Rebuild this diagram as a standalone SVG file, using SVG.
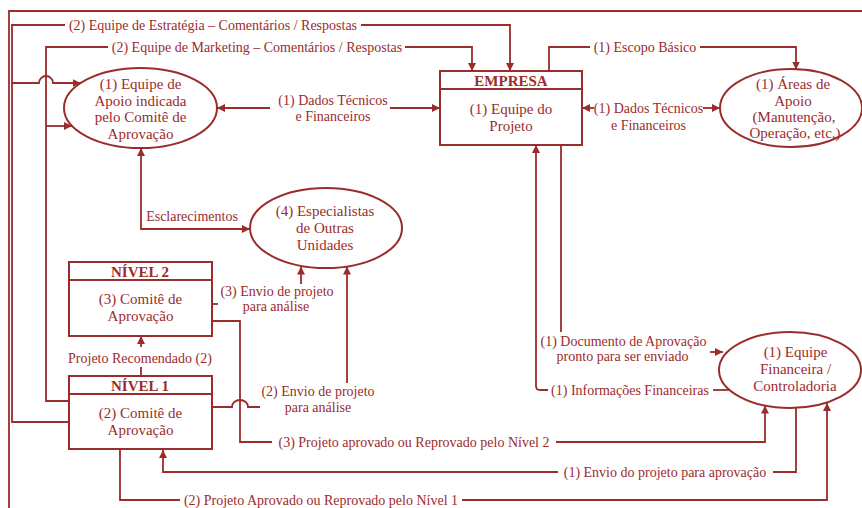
<svg xmlns="http://www.w3.org/2000/svg" width="862" height="508" viewBox="0 0 862 508">
  <style>
    .ln { fill: none; stroke: #9b2c2c; stroke-width: 1.8; }
    .bx { fill: #ffffff; stroke: #9b2c2c; stroke-width: 2; }
    .ar { marker-end: url(#arr); }
    .ar2 { marker-start: url(#arrS); marker-end: url(#arr); }
    text { font-family: "Liberation Serif", "Times New Roman", serif; fill: #9b2c2c; text-anchor: middle; }
    .nt { font-size: 15px; }
    .hd { font-size: 15px; font-weight: bold; }
    .lb { font-size: 14px; }
  </style>
  <defs>
    <marker id="arr" markerUnits="userSpaceOnUse" markerWidth="9" markerHeight="8" refX="8" refY="4" orient="auto">
      <path d="M0,0 L8,4 L0,8 z" fill="#9b2c2c"/>
    </marker>
    <marker id="arrS" markerUnits="userSpaceOnUse" markerWidth="9" markerHeight="8" refX="8" refY="4" orient="auto-start-reverse">
      <path d="M0,0 L8,4 L0,8 z" fill="#9b2c2c"/>
    </marker>
  </defs>
  <rect width="862" height="508" fill="#ffffff"/>

  <!-- connectors -->
  <g id="connectors">
    <!-- outer frame line -->
    <path class="ln" d="M862,11 H9 V508"/>

    <!-- strategy team feedback -->
    <path class="ln" d="M69,422 H12 V25 H65"/>
    <path class="ln ar" d="M361,25 H510 V71"/>
    <path class="ln ar" d="M12,83 H39 a7,7 0 0 1 14,0 H80.5"/>
    <text class="lb" x="213" y="29.5">(2) Equipe de Estratégia – Comentários / Respostas</text>

    <!-- marketing team feedback -->
    <path class="ln" d="M69,401 H46 V47 H108"/>
    <path class="ln ar" d="M405,47 H472 V71"/>
    <path class="ln ar" d="M46,126 H72"/>
    <text class="lb" x="257" y="51.5">(2) Equipe de Marketing – Comentários / Respostas</text>

    <!-- technical and financial data, left -->
    <path class="ln ar" d="M270,108 H217"/>
    <path class="ln ar" d="M390,108 H440"/>
    <text class="lb" x="333" y="104.5">(1) Dados Técnicos</text>
    <text class="lb" x="333" y="120.5">e Financeiros</text>

    <!-- technical and financial data, right -->
    <path class="ln ar" d="M594,108 H582"/>
    <path class="ln ar" d="M703,108 H720"/>
    <text class="lb" x="648.5" y="113">(1) Dados Técnicos</text>
    <text class="lb" x="648.5" y="129.5">e Financeiros</text>

    <!-- basic scope -->
    <path class="ln" d="M549,71 V47 H590"/>
    <path class="ln ar" d="M700,47 H796 V69.5"/>
    <text class="lb" x="645" y="51.5">(1) Escopo Básico</text>

    <!-- clarifications -->
    <path class="ln ar2" d="M141,148 V229 H250"/>
    <text class="lb" x="192" y="221">Esclarecimentos</text>

    <!-- project sent for analysis (3) -->
    <path class="ln" d="M212,304 H218"/>
    <path class="ln ar" d="M301,284 V266.5"/>
    <text class="lb" x="277" y="295.5">(3) Envio de projeto</text>
    <text class="lb" x="276" y="311">para análise</text>

    <!-- project sent for analysis (2) -->
    <path class="ln" d="M212,407 H232 a8,7 0 0 1 16,0 H260"/>
    <path class="ln ar" d="M347,383 V266.5"/>
    <text class="lb" x="318" y="396">(2) Envio de projeto</text>
    <text class="lb" x="318" y="412">para análise</text>

    <!-- recommended project -->
    <path class="ln" d="M141,376 V367"/>
    <path class="ln ar" d="M141,347 V336"/>
    <text class="lb" x="140" y="363">Projeto Recomendado (2)</text>

    <!-- level 2 decision -->
    <path class="ln" d="M212,321 H240 V442 H272"/>
    <path class="ln ar" d="M556,442 H765 V405.5"/>
    <text class="lb" x="414" y="446.5">(3) Projeto aprovado ou Reprovado pelo Nível 2</text>

    <!-- submission for approval -->
    <path class="ln" d="M796,408 V472 H773"/>
    <path class="ln ar" d="M558,472 H163 V450"/>
    <text class="lb" x="665" y="476.5">(1) Envio do projeto para aprovação</text>

    <!-- level 1 decision -->
    <path class="ln" d="M120,449 V500 H180"/>
    <path class="ln ar" d="M462,500 H827 V403"/>
    <text class="lb" x="321" y="504.5">(2) Projeto Aprovado ou Reprovado pelo Nível 1</text>

    <!-- financial information -->
    <path class="ln" d="M731,390 H713"/>
    <path class="ln ar" d="M548,390 H540 Q536,390 536,386 V145"/>
    <text class="lb" x="630" y="394.5">(1) Informações Financeiras</text>

    <!-- approval document -->
    <path class="ln" d="M561,145 V332"/>
    <path class="ln ar" d="M710,352 H723"/>
    <text class="lb" x="623.5" y="346">(1) Documento de Aprovação</text>
    <text class="lb" x="622.5" y="360.5">pronto para ser enviado</text>
  </g>

  <!-- nodes -->
  <g id="empresa">
    <rect class="bx" x="440" y="71" width="142" height="74"/>
    <line class="ln" x1="440" y1="89" x2="582" y2="89" stroke-width="2"/>
    <text class="hd" x="511" y="86">EMPRESA</text>
    <text class="nt" x="511" y="114">(1) Equipe do</text>
    <text class="nt" x="511" y="130.5">Projeto</text>
  </g>

  <g id="equipe-apoio">
    <ellipse class="bx" cx="140.5" cy="108" rx="76.5" ry="40"/>
    <text class="nt" x="140.5" y="89">(1) Equipe de</text>
    <text class="nt" x="140.5" y="105.5">Apoio indicada</text>
    <text class="nt" x="140.5" y="122">pelo Comitê de</text>
    <text class="nt" x="140.5" y="138.5">Aprovação</text>
  </g>

  <g id="areas-apoio">
    <ellipse class="bx" cx="791" cy="108" rx="71" ry="39"/>
    <text class="nt" x="793" y="89">(1) Áreas de</text>
    <text class="nt" x="793" y="105.5">Apoio</text>
    <text class="nt" x="794" y="122">(Manutenção,</text>
    <text class="nt" x="795" y="138">Operação, etc.)</text>
  </g>

  <g id="especialistas">
    <ellipse class="bx" cx="326" cy="228" rx="76" ry="40"/>
    <text class="nt" x="325" y="216">(4) Especialistas</text>
    <text class="nt" x="325" y="233">de Outras</text>
    <text class="nt" x="325" y="250">Unidades</text>
  </g>

  <g id="nivel2">
    <rect class="bx" x="69" y="262" width="143" height="74"/>
    <line class="ln" x1="69" y1="280" x2="212" y2="280" stroke-width="2"/>
    <text class="hd" x="140" y="277">NÍVEL 2</text>
    <text class="nt" x="140.5" y="304">(3) Comitê de</text>
    <text class="nt" x="140.5" y="320.5">Aprovação</text>
  </g>

  <g id="nivel1">
    <rect class="bx" x="69" y="376" width="143" height="73"/>
    <line class="ln" x1="69" y1="394" x2="212" y2="394" stroke-width="2"/>
    <text class="hd" x="140" y="390.5">NÍVEL 1</text>
    <text class="nt" x="140.5" y="418">(2) Comitê de</text>
    <text class="nt" x="140.5" y="435">Aprovação</text>
  </g>

  <g id="equipe-financeira">
    <ellipse class="bx" cx="790" cy="370" rx="71" ry="38"/>
    <text class="nt" x="795.5" y="357">(1) Equipe</text>
    <text class="nt" x="795.5" y="374">Financeira /</text>
    <text class="nt" x="795" y="390.5">Controladoria</text>
  </g>
</svg>
